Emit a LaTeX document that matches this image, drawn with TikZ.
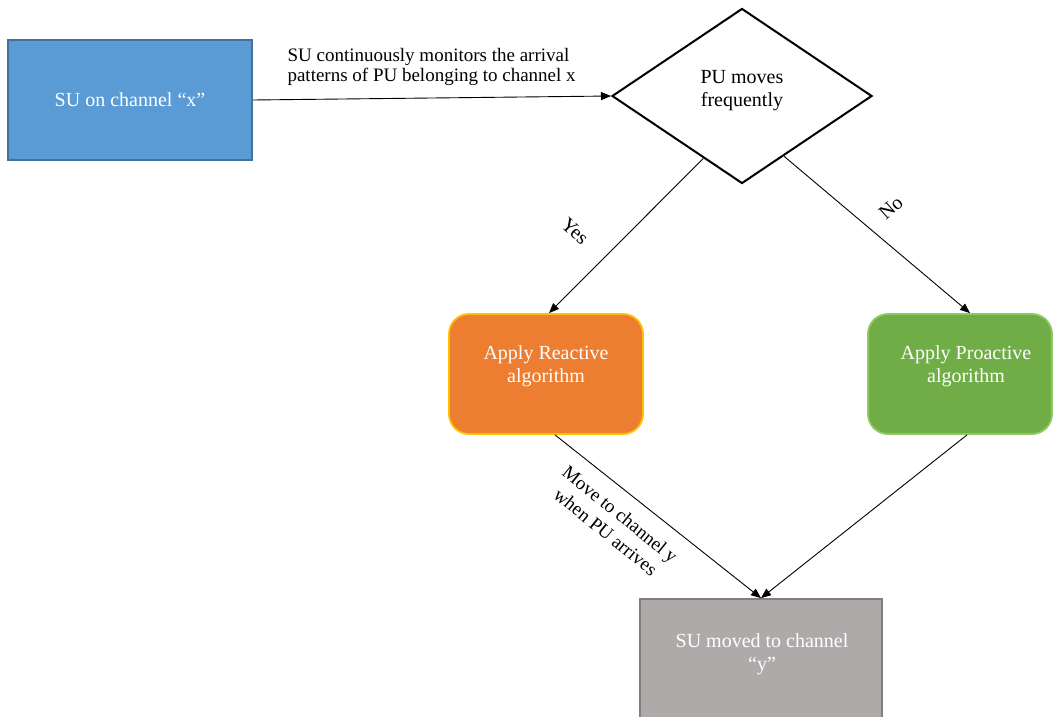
\documentclass[tikz,border=0pt]{standalone}
\usepackage{fontspec}
\setmainfont{Liberation Serif}
\usetikzlibrary{shapes.geometric,arrows.meta,calc}
\definecolor{suBlue}{HTML}{5B9BD5}
\definecolor{suBlueEdge}{HTML}{41719C}
\definecolor{reacFill}{HTML}{ED7D31}
\definecolor{reacEdge}{HTML}{FFC000}
\definecolor{proFill}{HTML}{70AD47}
\definecolor{proEdge}{HTML}{8DCB62}
\definecolor{doneFill}{HTML}{AEAAAA}
\definecolor{doneEdge}{HTML}{7F7F7F}
\begin{document}
\begin{tikzpicture}[x=1pt,y=-1pt,
  every node/.style={font=\fontsize{20}{23}\selectfont},
  block/.style={draw, line width=1.8pt, inner sep=0pt},
  inbox/.style={text=white, align=center},
  smalltxt/.style={font=\fontsize{19}{20}\selectfont},
  arr/.style={line width=0.9pt, -{Triangle[length=10pt,width=8pt]}}]
  % canvas
  \fill[white] (0,0) rectangle (1053,717);
  \useasboundingbox (0,0) rectangle (1053,717);

  % starting state
  \node[block, fill=suBlue, draw=suBlueEdge, minimum width=244pt, minimum height=120pt, inbox]
    (su) at (130,100) {SU on channel “x”};

  % decision
  \node[diamond, draw, line width=2pt, inner sep=0pt, minimum width=260pt, minimum height=175pt, align=center]
    (dia) at (742,96) {};
  \node[align=center] (diaT) at (742,91) {PU moves\\frequently};

  % the two algorithms
  \node[block, fill=reacFill, draw=reacEdge, rounded corners=20pt, minimum width=194pt, minimum height=120pt]
    (reac) at (546,374) {};
  \node[inbox] (reacT) at (546,366) {Apply Reactive\\algorithm};
  \node[block, fill=proFill, draw=proEdge, rounded corners=20pt, minimum width=184pt, minimum height=120pt]
    (pro) at (960,374) {};
  \node[inbox] (proT) at (966,366) {Apply Proactive\\algorithm};

  % final state
  \node[block, fill=doneFill, draw=doneEdge, minimum width=242pt, minimum height=140pt]
    (done) at (761,669) {};
  \node[inbox] (doneT) at (762,654) {SU moved to channel\\“y”};

  % connectors
  \draw[arr] (su.east) -- (dia.west);
  \node[smalltxt, anchor=west, align=left] (mon) at (284,67)
    {SU continuously monitors the arrival\\patterns of PU belonging to channel x};

  \draw[arr] ($(dia.west)!0.705!(dia.south)$) coordinate (yesA) -- ($(reac.north)+(3,0)$);
  \node[rotate=-42] (yes) at (575,231) {Yes};

  \draw[arr] ($(dia.east)!0.68!(dia.south)$) coordinate (noA) -- ($(pro.north)+(10,0)$);
  \node[rotate=42] (no) at (891,208) {No};

  \draw[arr] ($(reac.south)+(9,0)$) -- (done.north);
  \node[smalltxt, rotate=-39, align=center, font=\fontsize{19}{23}\selectfont] (mv) at (613,523)
    {Move to channel y\\when PU arrives};

  \draw[arr] ($(pro.south)+(7,0)$) -- (done.north);
\end{tikzpicture}
\end{document}
